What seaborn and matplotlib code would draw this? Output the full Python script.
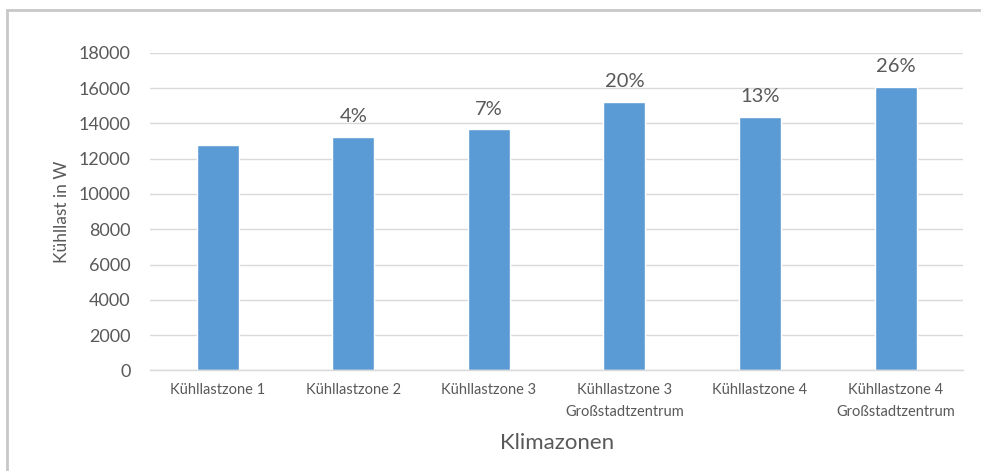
import matplotlib
matplotlib.use("Agg")
import matplotlib.pyplot as plt
from matplotlib.patches import Rectangle
import seaborn as sns
import pandas as pd

# Cooling load per climate zone
zones = [
    "Kühllastzone 1",
    "Kühllastzone 2",
    "Kühllastzone 3",
    "Kühllastzone 3\nGroßstadtzentrum",
    "Kühllastzone 4",
    "Kühllastzone 4\nGroßstadtzentrum",
]
kuehllast = [12770, 13230, 13660, 15230, 14380, 16070]
increase_labels = ["", "4%", "7%", "20%", "13%", "26%"]
y_ticks = [0, 2000, 4000, 6000, 8000, 10000, 12000, 14000, 16000, 18000]

df = pd.DataFrame({"Klimazone": zones, "Kühllast": kuehllast})

sns.set_theme(style="white")
plt.rcParams["font.family"] = ["Lato", "DejaVu Sans"]

text_color = "#595959"
grid_color = "#D9D9D9"
bar_color = "#5B9BD5"

fig = plt.figure(figsize=(9.81, 4.71), dpi=100)
ax = fig.add_axes([0.153, 0.2135, 0.829, 0.6745])

sns.barplot(data=df, x="Klimazone", y="Kühllast", color=bar_color,
            saturation=1, width=0.31, ax=ax, zorder=3)

ax.set_ylim(0, 18000)
ax.set_xlim(-0.5, len(zones) - 0.5)
ax.set_yticks(y_ticks)
ax.set_yticklabels([str(t) for t in y_ticks], fontsize=13, color=text_color)
ax.tick_params(axis="x", labelsize=10.5, colors=text_color, length=0, pad=9)
ax.tick_params(axis="y", length=0, pad=14)
for lbl in ax.get_xticklabels():
    lbl.set_linespacing(1.75)

ax.yaxis.grid(True, color=grid_color, linewidth=1, zorder=0)
ax.xaxis.grid(False)
for side in ["top", "right", "left"]:
    ax.spines[side].set_visible(False)
ax.spines["bottom"].set_color(grid_color)
ax.spines["bottom"].set_linewidth(1)
ax.spines["bottom"].set_zorder(4)

ax.set_ylabel("Kühllast in W", fontsize=12.5, color=text_color, labelpad=6)
ax.set_xlabel("Klimazonen", fontsize=16, color=text_color, labelpad=10)

# Percentage increase above each bar
for i, (val, txt) in enumerate(zip(kuehllast, increase_labels)):
    if txt:
        ax.annotate(txt, (i, val), xytext=(0, 8.5), textcoords="offset points",
                    ha="center", va="bottom", fontsize=14.5, color=text_color)

# Chart frame
fig.patches.append(Rectangle((6.5 / 981, -0.05), 1.2, (471 - 9.5) / 471 + 0.05,
                             transform=fig.transFigure, fill=False,
                             edgecolor="#C8C8C8", linewidth=2, zorder=10))

fig.savefig("out.png", dpi=100)
